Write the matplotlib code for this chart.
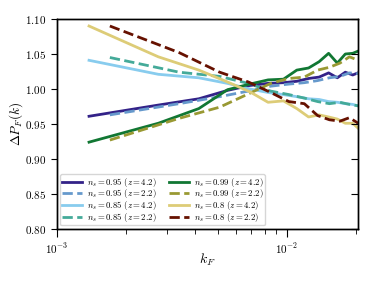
import matplotlib
matplotlib.use("Agg")
import matplotlib.pyplot as plt
import numpy as np

plt.rcParams["mathtext.fontset"] = "cm"
plt.rcParams["font.family"] = ["DejaVu Serif"]

# fundamental-mode multiples for the two redshifts
KF_HI = 1.38e-3   # z = 4.2
KF_LO = 1.70e-3   # z = 2.2
N_HI = np.arange(1, 16)
N_LO = np.arange(1, 13)

# z = 4.2 (solid)
ns095_z42 = [0.961, 0.977, 0.986, 0.998, 1.005, 1.008, 1.009, 1.011, 1.015,
             1.017, 1.023, 1.016, 1.024, 1.020, 1.024]
ns085_z42 = [1.041, 1.021, 1.016, 1.008, 1.000, 0.995, 0.992, 0.989, 0.986,
             0.985, 0.982, 0.981, 0.979, 0.978, 0.975]
ns099_z42 = [0.924, 0.951, 0.972, 0.999, 1.007, 1.013, 1.014, 1.027, 1.030,
             1.039, 1.051, 1.037, 1.050, 1.051, 1.055]
ns080_z42 = [1.090, 1.046, 1.027, 1.010, 0.996, 0.981, 0.983, 0.972, 0.960,
             0.963, 0.960, 0.957, 0.951, 0.951, 0.942]

# z = 2.2 (dashed)
ns095_z22 = [0.963, 0.979, 0.989, 0.997, 1.004, 1.007, 1.009, 1.012, 1.016,
             1.018, 1.023, 1.022]
ns085_z22 = [1.045, 1.024, 1.018, 1.008, 0.997, 0.992, 0.987, 0.982, 0.979,
             0.981, 0.978, 0.976]
ns099_z22 = [0.927, 0.958, 0.974, 0.993, 1.008, 1.015, 1.017, 1.027, 1.031,
             1.037, 1.046, 1.041]
ns080_z22 = [1.090, 1.052, 1.024, 1.010, 0.995, 0.982, 0.979, 0.962, 0.956,
             0.954, 0.959, 0.951]

ytick_vals = [0.80, 0.85, 0.90, 0.95, 1.00, 1.05, 1.10]
ytick_labels = ["$0.80$", "$0.85$", "$0.90$", "$0.95$", "$1.00$", "$1.05$", "$1.10$"]
xtick_vals = [1e-3, 1e-2]
xtick_labels = ["$10^{-3}$", "$10^{-2}$"]

k_hi = KF_HI * N_HI
k_lo = KF_LO * N_LO

series = [
    (k_hi, ns095_z42, "#332288", "-",  r"$n_s = 0.95\ (z = 4.2)$"),
    (k_lo, ns095_z22, "#6699CC", "--", r"$n_s = 0.95\ (z = 2.2)$"),
    (k_hi, ns085_z42, "#88CCEE", "-",  r"$n_s = 0.85\ (z = 4.2)$"),
    (k_lo, ns085_z22, "#44AA99", "--", r"$n_s = 0.85\ (z = 2.2)$"),
    (k_hi, ns099_z42, "#117733", "-",  r"$n_s = 0.99\ (z = 4.2)$"),
    (k_lo, ns099_z22, "#999933", "--", r"$n_s = 0.99\ (z = 2.2)$"),
    (k_hi, ns080_z42, "#DDCC77", "-",  r"$n_s = 0.8\ (z = 4.2)$"),
    (k_lo, ns080_z22, "#661100", "--", r"$n_s = 0.8\ (z = 2.2)$"),
]

fig = plt.figure(figsize=(3.79, 2.84), dpi=100)
ax = fig.add_axes([0.150, 0.194, 0.795, 0.739])

for k, v, c, ls, lab in series:
    ax.plot(k, v, color=c, ls=ls, lw=2, label=lab)

ax.set_xscale("log")
ax.set_xlim(1e-3, 0.0204)
ax.set_ylim(0.80, 1.10)
ax.set_yticks(ytick_vals)
ax.set_yticklabels(ytick_labels)
ax.set_xticks(xtick_vals)
ax.set_xticklabels(xtick_labels)
ax.tick_params(axis="both", which="major", labelsize=8, direction="out", length=4)
ax.tick_params(axis="x", which="major", length=6, pad=3)
ax.tick_params(axis="x", which="minor", direction="out", length=3.5)
ax.set_xlabel(r"$k_F$", fontsize=10, labelpad=-3)
ax.set_ylabel(r"$\Delta P_F(k)$", fontsize=9.5, labelpad=0)

# inward ticks on the right-hand spine
ax2 = ax.twinx()
ax2.set_ylim(ax.get_ylim())
ax2.set_yticks(ytick_vals)
ax2.tick_params(axis="y", direction="in", length=5, labelright=False)

for a in (ax, ax2):
    for s in a.spines.values():
        s.set_linewidth(1.0)

ax.legend(loc="lower left", ncol=2, fontsize=6.3, handlelength=2.25,
          handletextpad=0.55, columnspacing=1.5, labelspacing=-0.15,
          borderpad=0.2, borderaxespad=0.4,
          framealpha=0.8, edgecolor="#cccccc", fancybox=True)

fig.savefig("out.png", dpi=100)
